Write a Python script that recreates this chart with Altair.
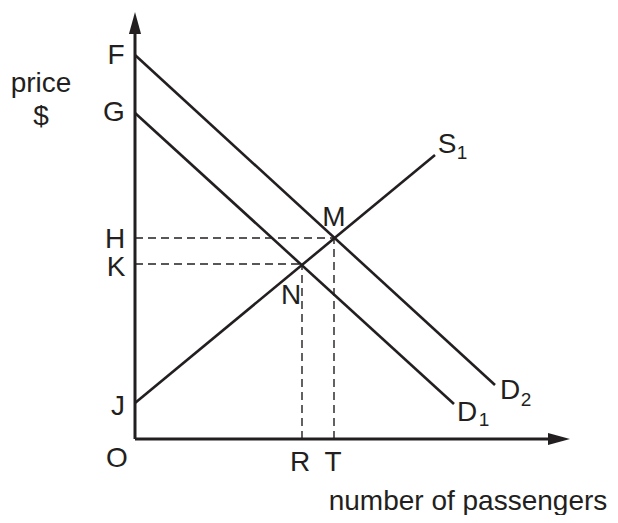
import altair as alt
import pandas as pd

# ---- data (1 unit ~ 10 px) ----
price_labels = ["F", "G", "H", "K", "J"]
price_levels = [38.4, 32.6, 20.1, 17.5, 3.6]

qty_labels = ["R", "T"]
qty_levels = [16.7, 19.9]

curve_names = ["D2", "D1", "S1"]
curve_q0 = [0.0, 0.0, 0.0]
curve_p0 = [38.4, 32.6, 3.6]
curve_q1 = [36.0, 31.9, 30.0]
curve_p1 = [5.4, 3.5, 28.4]

eq_labels = ["N", "M"]
eq_q = [16.7, 19.9]
eq_p = [17.5, 20.1]

axis_x_end = 43.5
axis_y_end = 42.7

# ---- styles ----
INK = "#231f20"
FONT = "Liberation Sans"
FS = 28
SUB = 19

xs = alt.Scale(domain=[-12.7, 47.5], nice=False, zero=False)
ys = alt.Scale(domain=[-7.6, 43.1], nice=False, zero=False)


def seg_chart(df, **mk):
    return alt.Chart(df).mark_rule(color=INK, **mk).encode(
        x=alt.X("q0:Q", scale=xs, axis=None),
        y=alt.Y("p0:Q", scale=ys, axis=None),
        x2="q1:Q",
        y2="p1:Q",
    )


def label(text, q, p, dx, dy, size=FS, align="center"):
    df = pd.DataFrame({"q": [q], "p": [p], "t": [text]})
    return alt.Chart(df).mark_text(
        dx=dx, dy=dy, fontSize=size, font=FONT, color=INK,
        align=align, baseline="middle"
    ).encode(
        x=alt.X("q:Q", scale=xs, axis=None),
        y=alt.Y("p:Q", scale=ys, axis=None),
        text="t:N",
    )


axes_df = pd.DataFrame({
    "q0": [0.0, 0.0], "p0": [0.0, 0.0],
    "q1": [0.0, axis_x_end - 1.0], "p1": [axis_y_end - 1.0, 0.0],
})
curves_df = pd.DataFrame({
    "name": curve_names, "q0": curve_q0, "p0": curve_p0,
    "q1": curve_q1, "p1": curve_p1,
})
dash_df = pd.DataFrame({
    "q0": [0.0] * len(eq_q) + eq_q,
    "p0": eq_p + [0.0] * len(eq_q),
    "q1": eq_q + eq_q,
    "p1": eq_p + eq_p,
})

axes = seg_chart(axes_df, strokeWidth=3)
curves = seg_chart(curves_df, strokeWidth=2.6)
dashes = seg_chart(dash_df, strokeWidth=1.4, strokeDash=[8, 5])

arrow_up = alt.Chart(pd.DataFrame({"q": [0.0], "p": [axis_y_end]})).mark_point(
    shape="M0,0L0.55,2L-0.55,2Z", size=484, filled=True, color=INK, opacity=1, strokeWidth=0
).encode(x=alt.X("q:Q", scale=xs, axis=None), y=alt.Y("p:Q", scale=ys, axis=None))
arrow_right = alt.Chart(pd.DataFrame({"q": [axis_x_end], "p": [0.0]})).mark_point(
    shape="M0,0L-2,-0.55L-2,0.55Z", size=484, filled=True, color=INK, opacity=1, strokeWidth=0
).encode(x=alt.X("q:Q", scale=xs, axis=None), y=alt.Y("p:Q", scale=ys, axis=None))

# label offsets (pixels)
price_off = {"F": (-19, 1), "G": (-21, 0), "H": (-20, 2), "K": (-19, 4), "J": (-17, 4)}
qty_off = {"R": (-2, 24), "T": (-1, 24)}
eq_off = {"N": (-11, 32), "M": (0, -20)}

layers = [dashes, curves, axes, arrow_up, arrow_right]
for t, p in zip(price_labels, price_levels):
    dx, dy = price_off[t]
    layers.append(label(t, 0.0, p, dx, dy))
for t, q in zip(qty_labels, qty_levels):
    dx, dy = qty_off[t]
    layers.append(label(t, q, 0.0, dx, dy))
for t, q, p in zip(eq_labels, eq_q, eq_p):
    dx, dy = eq_off[t]
    layers.append(label(t, q, p, dx, dy))
layers.append(label("O", 0.0, 0.0, -18, 20))

# curve end labels with subscripts
end = {n: (q, p) for n, q, p in zip(curve_names, curve_q1, curve_p1)}
layers.append(label("S", *end["S1"], 12, -10))
layers.append(label("1", *end["S1"], 27, -2, size=SUB))
layers.append(label("D", *end["D2"], 15, 6))
layers.append(label("2", *end["D2"], 31, 15, size=SUB))
layers.append(label("D", *end["D1"], 13, 9))
layers.append(label("1", *end["D1"], 30, 16, size=SUB))

# axis titles
layers.append(label("price", 0.0, price_levels[0], -94, 29))
layers.append(label("$", 0.0, price_levels[1], -94, 4))
layers.append(label("number of passengers", axis_x_end, 0.0, -102, 63))

chart = alt.layer(*layers).properties(
    width=602, height=507,
    autosize=alt.AutoSizeParams(type="none"),
    padding=0,
    background="white",
).configure_view(strokeWidth=0)

chart.save("out.html", embed_options={"renderer": "svg", "actions": False})
